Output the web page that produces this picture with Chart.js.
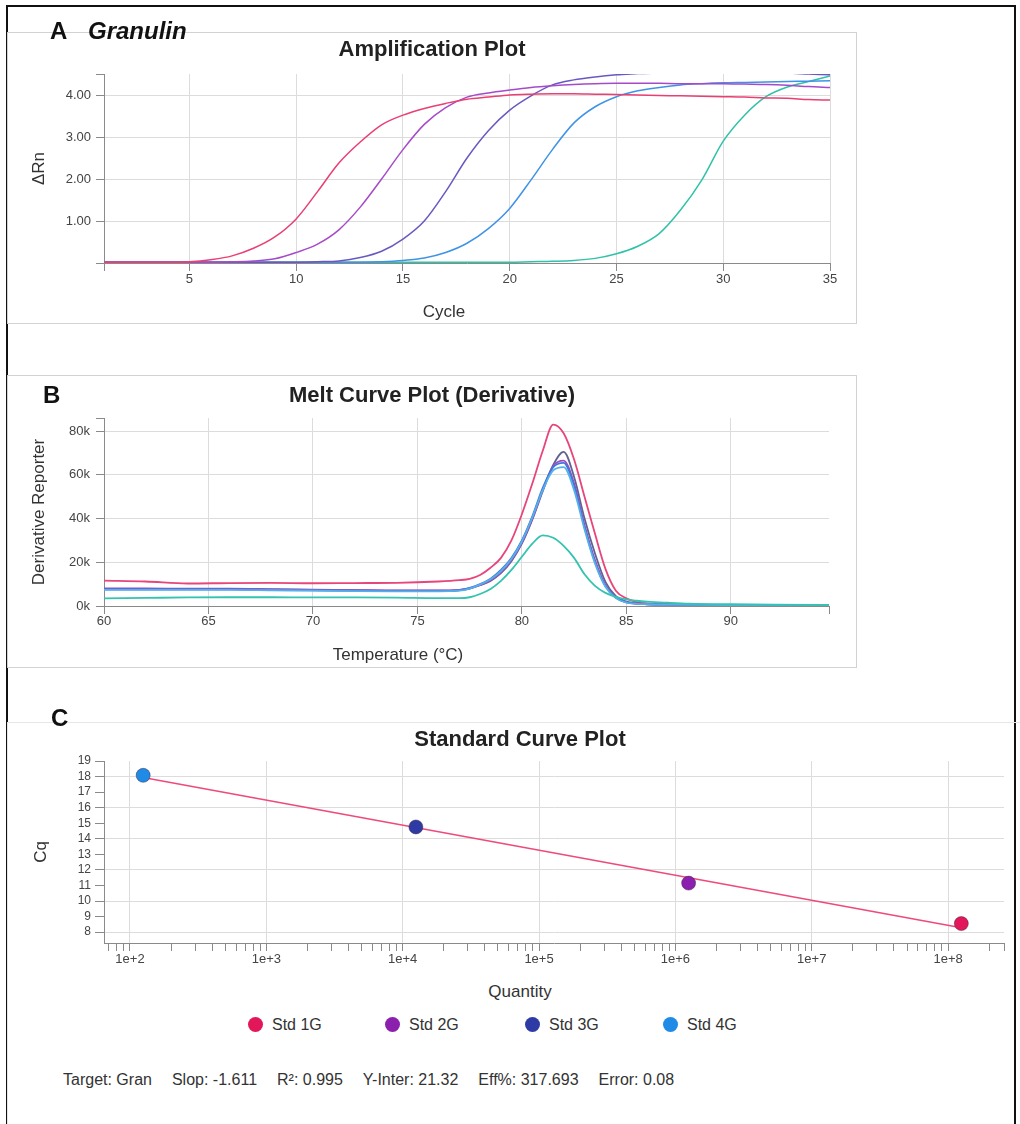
<!DOCTYPE html>
<html>
<head>
<meta charset="utf-8">
<script src="https://cdn.jsdelivr.net/npm/chart.js@4.4.1/dist/chart.umd.min.js"></script>
<style>
  body { margin:0; width:1020px; height:1124px; overflow:hidden; background:#fff; position:relative;
         font-family:"Liberation Sans", Arial, sans-serif; }
  .frame { position:absolute; left:6px; top:5px; width:1010px; height:1200px; border:2px solid #111;
           border-bottom:none; box-sizing:border-box; }
  .panel { position:absolute; border:1px solid #d2d2d2; box-sizing:border-box; }
  canvas { position:absolute; }
  .lab { position:absolute; font-weight:bold; font-size:24px; line-height:26px; color:#111; }
  .axt { position:absolute; font-size:17px; line-height:20px; color:#333; transform:translateX(-50%); white-space:nowrap; }
  .leg { position:absolute; top:1016px; font-size:16px; line-height:18px; color:#333; white-space:nowrap; }
  .leg i { position:absolute; left:-24px; top:1px; width:15px; height:15px; border-radius:50%; }
  .stats { position:absolute; left:63px; top:1071px; display:flex; gap:20px; font-size:16px; line-height:18px;
           color:#333; white-space:nowrap; }
</style>
</head>
<body>
<div class="frame"></div>

<div class="panel" style="left:7px;top:32px;width:850px;height:292px;"></div>
<div class="panel" style="left:7px;top:375px;width:850px;height:293px;"></div>
<div class="panel" style="left:7px;top:722px;width:1030px;height:500px;border-color:#e6e6e6;"></div>

<canvas id="amp" width="850" height="292" style="left:7px;top:32px;"></canvas>
<canvas id="melt" width="850" height="293" style="left:7px;top:375px;"></canvas>
<canvas id="std" width="1026" height="250" style="left:7px;top:722px;"></canvas>

<div class="lab" style="left:50px;top:18px;">A</div>
<div class="lab" style="left:88px;top:18px;font-style:italic;">Granulin</div>
<div class="lab" style="left:43px;top:382px;">B</div>
<div class="lab" style="left:51px;top:705px;">C</div>

<div class="axt" style="left:444px;top:302px;">Cycle</div>
<div class="axt" style="left:398px;top:645px;">Temperature (°C)</div>
<div class="axt" style="left:520px;top:982px;">Quantity</div>

<div id="legend"></div>

<div class="stats">
  <span>Target: Gran</span><span>Slop: -1.611</span><span>R²: 0.995</span>
  <span>Y-Inter: 21.32</span><span>Eff%: 317.693</span><span>Error: 0.08</span>
</div>

<script>
// ---- A: amplification plot ----
var cycles = [1,2,3,4,5,6,7,8,9,10,11,12,13,14,15,16,17,18,19,20,21,22,23,24,25,26,27,28,29,30,31,32,33,34,35];
var ampRed    = [0.02,0.02,0.02,0.02,0.03,0.08,0.17,0.35,0.62,1.05,1.7,2.38,2.88,3.29,3.52,3.68,3.8,3.9,3.95,4.0,4.02,4.03,4.03,4.02,4.01,4.0,3.99,3.98,3.97,3.96,3.95,3.93,3.92,3.89,3.88];
var ampPurple = [0.02,0.02,0.02,0.02,0.02,0.02,0.03,0.05,0.1,0.25,0.45,0.79,1.33,2.0,2.7,3.3,3.7,3.95,4.05,4.12,4.18,4.22,4.25,4.27,4.28,4.28,4.28,4.27,4.27,4.27,4.26,4.25,4.23,4.2,4.18];
var ampIndigo = [0.02,0.02,0.02,0.02,0.02,0.02,0.02,0.02,0.02,0.02,0.03,0.05,0.13,0.28,0.57,1.0,1.7,2.5,3.15,3.64,3.98,4.24,4.36,4.43,4.48,4.51,4.52,4.53,4.53,4.53,4.53,4.52,4.52,4.5,4.48];
var ampBlue   = [0.02,0.02,0.02,0.02,0.02,0.02,0.02,0.02,0.02,0.02,0.02,0.02,0.02,0.03,0.06,0.12,0.25,0.47,0.82,1.3,1.98,2.7,3.33,3.72,3.96,4.1,4.18,4.24,4.27,4.29,4.3,4.31,4.32,4.33,4.34];
var ampTeal   = [0.02,0.02,0.02,0.02,0.02,0.02,0.02,0.02,0.02,0.02,0.02,0.02,0.02,0.02,0.02,0.02,0.02,0.02,0.02,0.02,0.03,0.04,0.06,0.11,0.22,0.4,0.7,1.26,1.98,2.9,3.52,3.96,4.19,4.32,4.45];
var ampXTicks = [1,5,10,15,20,25,30,35];
var ampYTicks = [0,1,2,3,4,4.5];

// ---- B: melt curve (derivative reporter, in thousands) ----
var meltTemps  = [60,62,64,66,68,70,72,74,76,77,77.5,78,78.5,79,79.5,80,80.5,81,81.5,82,82.5,83,83.5,84,84.5,85,85.5,86,87,88,90,92,94.7];
var meltRed    = [11.6,11.2,10.3,10.5,10.6,10.4,10.5,10.6,11.2,11.8,12.4,14.2,17.5,22,30,42,56,71,83,79,67,50,33,17,7,3.5,1.8,1.2,0.8,0.6,0.5,0.4,0.3];
var meltSlate  = [7.8,7.8,7.8,7.8,7.6,7.4,7.2,7.0,7.0,7.3,8.0,9.5,11.5,15,20.5,28.5,39.5,52.5,64.5,70.5,59,40,24,11,4.5,2.0,1.2,0.9,0.7,0.6,0.5,0.4,0.3];
var meltPurple = [8.0,8.0,7.9,7.9,7.7,7.5,7.3,7.1,7.1,7.4,8.1,9.6,11.8,15.5,21,29,40,53,64,66.5,56,37,21,9.5,4,1.8,1.1,0.8,0.6,0.5,0.4,0.4,0.3];
var meltIndigo = [7.6,7.6,7.6,7.6,7.4,7.2,7.0,6.8,6.8,7.2,8.3,10.0,12.5,16.5,22,30,41,54,63.5,65.5,55,36,20,9,3.8,1.7,1.0,0.8,0.6,0.5,0.4,0.4,0.3];
var meltBlue   = [7.4,7.4,7.4,7.4,7.2,7.0,6.8,6.7,6.7,7.0,8.0,9.8,12.2,16,21.5,29.5,40.5,53,62,63.5,53,35,19.5,8.8,3.6,1.6,1.0,0.8,0.6,0.5,0.4,0.4,0.3];
var meltTeal   = [3.5,3.7,3.9,4.0,4.0,3.9,3.9,3.8,3.6,3.6,4.0,5.5,7.8,11.5,16.5,22.5,28.5,32.3,31.2,27.5,22,14.5,9.2,6,4.2,3.0,2.4,2.0,1.5,1.1,0.8,0.6,0.5];
var meltXTicks = [60,65,70,75,80,85,90,94.7];
var meltYTicks = [0,20,40,60,80,86];

// ---- C: standard curve ----
var stdLabels = ['Std 1G','Std 2G','Std 3G','Std 4G'];
var stdQty    = [1.25e8, 1.25e6, 1.25e4, 125];
var stdCq     = [8.55, 11.15, 14.76, 18.08];
var stdColors = ['#e2175a','#8c20ae','#2f3ba4','#1f8be6'];
var fitQty    = [125, 1.25e8];
var fitCq     = [17.94, 8.28];
var stdYTicks = [8,9,10,11,12,13,14,15,16,17,18,19];

Chart.defaults.font.family = '"Liberation Sans", Arial, sans-serif';
Chart.defaults.color = '#444';

function pts(xs, ys) {
  return xs.map(function(x, i) { return {x: x, y: ys[i]}; });
}
function setTicks(list) {
  return function(scale) { scale.ticks = list.map(function(v) { return {value: v}; }); };
}
function lineSet(xs, ys, color, w) {
  return { data: pts(xs, ys), borderColor: color, borderWidth: w, pointRadius: 0,
           cubicInterpolationMode: 'monotone', fill: false };
}
// empty right-hand axis that reserves space so the title stays centred on the canvas
function spacer(w) {
  return { type: 'linear', position: 'right', display: true,
           ticks: { display: false }, grid: { display: false }, border: { display: false },
           afterFit: function(s) { s.width = w; } };
}
var gridCol = '#dcdcdc', axisCol = '#8a8a8a';

new Chart(document.getElementById('amp'), {
  type: 'line',
  data: { datasets: [
    lineSet(cycles, ampRed, '#ea3f73', 1.5),
    lineSet(cycles, ampPurple, '#a64ac9', 1.5),
    lineSet(cycles, ampIndigo, '#6a58c2', 1.5),
    lineSet(cycles, ampBlue, '#3f93e6', 1.5),
    lineSet(cycles, ampTeal, '#2fc2a8', 1.5)
  ]},
  options: {
    responsive: false, animation: false,
    plugins: {
      legend: { display: false }, tooltip: { enabled: false },
      title: { display: true, text: 'Amplification Plot', color: '#222',
               font: { size: 22, weight: 'bold' }, padding: { top: 4.8, bottom: 10.8 } }
    },
    scales: {
      x: { type: 'linear', min: 1, max: 35, afterBuildTicks: setTicks(ampXTicks),
           afterFit: function(s) { s.height = 61; },
           ticks: { autoSkip: false, maxRotation: 0, padding: 1, font: { size: 13 },
                    callback: function(v) { return v === 1 ? '' : v; } },
           grid: { color: gridCol, tickColor: axisCol, tickLength: 8 },
           border: { color: axisCol } },
      y: { min: 0, max: 4.5, afterBuildTicks: setTicks(ampYTicks),
           afterFit: function(s) { s.width = 97; },
           ticks: { autoSkip: false, padding: 5, font: { size: 13 },
                    callback: function(v) { return (v === 0 || v === 4.5) ? '' : v.toFixed(2); } },
           grid: { color: function(c) { return c.tick && c.tick.value === 4.5 ? 'transparent' : gridCol; },
                   tickColor: axisCol, tickLength: 8 },
           border: { color: axisCol },
           title: { display: true, text: 'ΔRn', color: '#333', font: { size: 17 }, padding: { top: 22 } } },
      pad: spacer(27)
    }
  }
});

new Chart(document.getElementById('melt'), {
  type: 'line',
  data: { datasets: [
    lineSet(meltTemps, meltTeal, '#33c3ae', 1.8),
    lineSet(meltTemps, meltBlue, '#55b0ea', 1.8),
    lineSet(meltTemps, meltIndigo, '#3f78dc', 1.8),
    lineSet(meltTemps, meltPurple, '#a449c4', 1.8),
    lineSet(meltTemps, meltSlate, '#5f6390', 1.8),
    lineSet(meltTemps, meltRed, '#e8457a', 1.8)
  ]},
  options: {
    responsive: false, animation: false,
    plugins: {
      legend: { display: false }, tooltip: { enabled: false },
      title: { display: true, text: 'Melt Curve Plot (Derivative)', color: '#222',
               font: { size: 22, weight: 'bold' }, padding: { top: 7.8, bottom: 8.8 } }
    },
    scales: {
      x: { type: 'linear', min: 60, max: 94.7, afterBuildTicks: setTicks(meltXTicks),
           afterFit: function(s) { s.height = 62; },
           ticks: { autoSkip: false, maxRotation: 0, padding: 0, font: { size: 13 },
                    callback: function(v) { return v === 94.7 ? '' : v; } },
           grid: { color: function(c) { return c.tick && c.tick.value === 94.7 ? 'transparent' : gridCol; },
                   tickColor: axisCol, tickLength: 8 },
           border: { color: axisCol } },
      y: { min: 0, max: 86, afterBuildTicks: setTicks(meltYTicks),
           afterFit: function(s) { s.width = 97; },
           ticks: { autoSkip: false, padding: 6, font: { size: 13 },
                    callback: function(v) { return v === 86 ? '' : v + 'k'; } },
           grid: { color: function(c) { return c.tick && c.tick.value === 86 ? 'transparent' : gridCol; },
                   tickColor: axisCol, tickLength: 8 },
           border: { color: axisCol },
           title: { display: true, text: 'Derivative Reporter', color: '#333', font: { size: 17 }, padding: { top: 22 } } },
      pad: spacer(28)
    }
  }
});

// log axis ticks: every 1..9 x 10^n inside the range, labels on decades
var qMin = 64.5, qMax = 2.57e8;
function logTicks(scale) {
  var t = [];
  for (var e = 1; e <= 8; e++) {
    for (var m = 1; m <= 9; m++) {
      var v = m * Math.pow(10, e);
      if (v >= qMin && v <= qMax) t.push({value: v});
    }
  }
  t.push({value: qMax});
  scale.ticks = t;
}
function decade(v) {
  var e = Math.round(Math.log10(v));
  return Math.abs(v - Math.pow(10, e)) < 1e-6 * v ? e : null;
}

var stdSets = [{
  type: 'line', data: pts(fitQty, fitCq), borderColor: '#ee4a7b', borderWidth: 1.5,
  pointRadius: 0, showLine: true, order: 2
}];
stdLabels.forEach(function(name, i) {
  stdSets.push({ label: name, data: [{x: stdQty[i], y: stdCq[i]}], backgroundColor: stdColors[i],
                 borderColor: 'rgba(60,30,60,0.45)', borderWidth: 1, pointRadius: 7, order: 1 });
});

new Chart(document.getElementById('std'), {
  type: 'scatter',
  data: { datasets: stdSets },
  options: {
    responsive: false, animation: false,
    plugins: {
      legend: { display: false }, tooltip: { enabled: false },
      title: { display: true, text: 'Standard Curve Plot', color: '#222',
               font: { size: 22, weight: 'bold' }, padding: { top: 4.8, bottom: 7.8 } }
    },
    scales: {
      x: { type: 'logarithmic', min: qMin, max: qMax, afterBuildTicks: logTicks,
           afterFit: function(s) { s.height = 29; },
           ticks: { autoSkip: false, maxRotation: 0, padding: 1, font: { size: 13 },
                    callback: function(v) { var e = decade(v); return e === null ? '' : '1e+' + e; } },
           grid: { color: function(c) { return c.tick && decade(c.tick.value) !== null ? gridCol : 'transparent'; },
                   tickColor: axisCol, tickLength: 8 },
           border: { color: axisCol } },
      y: { min: 7.3, max: 19, afterBuildTicks: setTicks(stdYTicks),
           afterFit: function(s) { s.width = 97; },
           ticks: { autoSkip: false, padding: 4, font: { size: 12 } },
           grid: { color: function(c) { return c.tick && c.tick.value % 2 === 0 ? gridCol : 'transparent'; },
                   tickColor: axisCol, tickLength: 9 },
           border: { color: axisCol },
           title: { display: true, text: 'Cq', color: '#333', font: { size: 17 }, padding: { top: 24 } } },
      pad: spacer(29)
    }
  }
});

// HTML legend for the standard curve, built from the series arrays
var legendX = [272, 409, 549, 687];
var legend = document.getElementById('legend');
stdLabels.forEach(function(name, i) {
  var d = document.createElement('div');
  d.className = 'leg';
  d.style.left = legendX[i] + 'px';
  d.innerHTML = '<i style="background:' + stdColors[i] + '"></i>' + name;
  legend.appendChild(d);
});
</script>
</body>
</html>
